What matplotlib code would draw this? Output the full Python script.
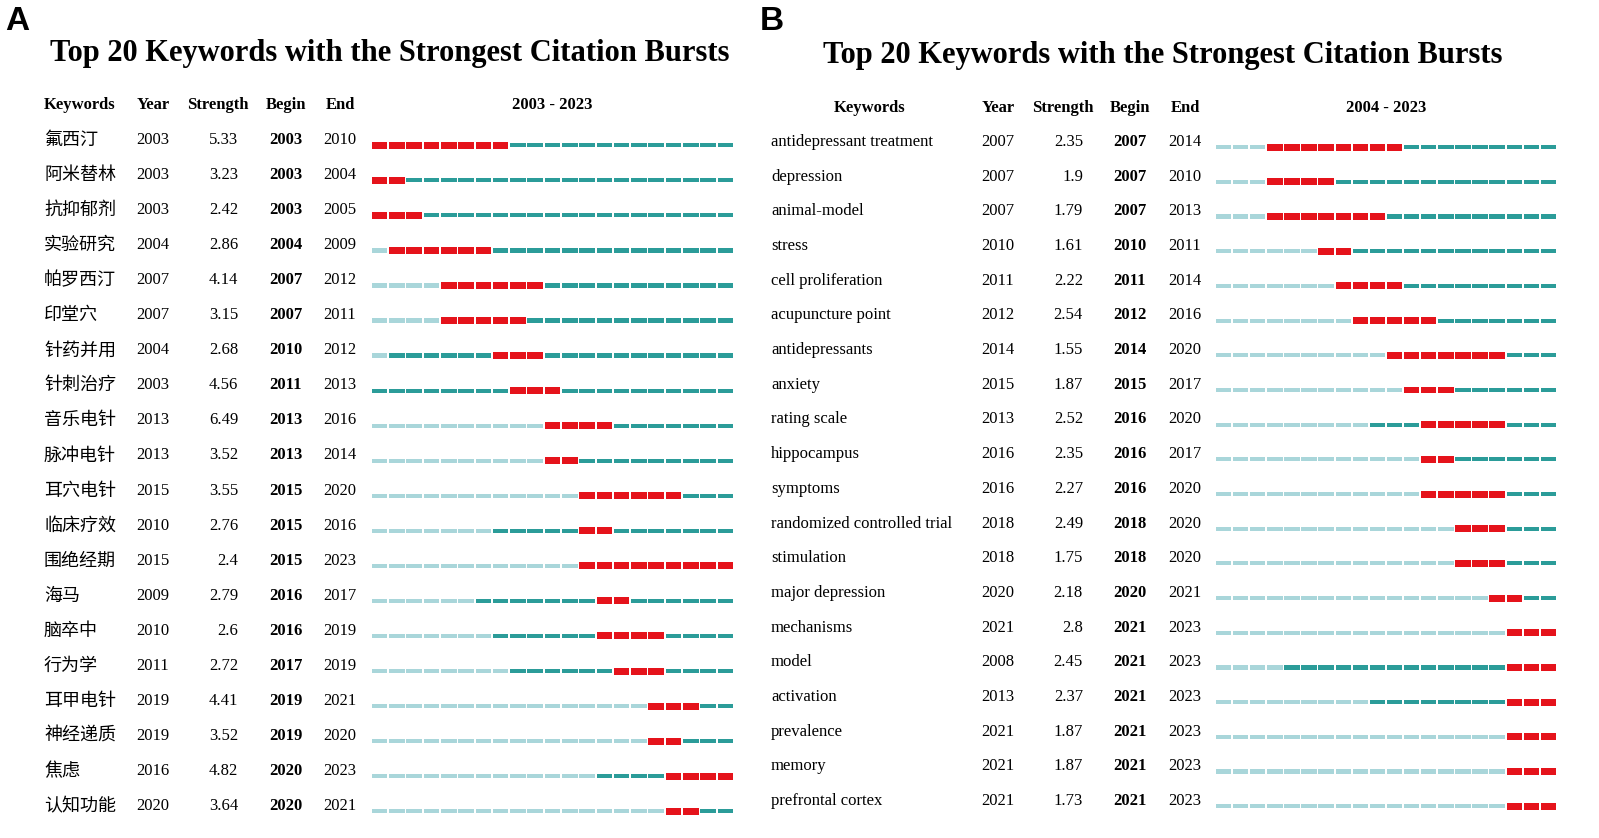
import matplotlib
matplotlib.use("Agg")
import matplotlib.pyplot as plt

kwA = ["氟西汀","阿米替林","抗抑郁剂","实验研究","帕罗西汀","印堂穴","针药并用","针刺治疗","音乐电针","脉冲电针",
       "耳穴电针","临床疗效","围绝经期","海马","脑卒中","行为学","耳甲电针","神经递质","焦虑","认知功能"]
yearA = [2003,2003,2003,2004,2007,2007,2004,2003,2013,2013,2015,2010,2015,2009,2010,2011,2019,2019,2016,2020]
strA = [5.33,3.23,2.42,2.86,4.14,3.15,2.68,4.56,6.49,3.52,3.55,2.76,2.4,2.79,2.6,2.72,4.41,3.52,4.82,3.64]
beginA = [2003,2003,2003,2004,2007,2007,2010,2011,2013,2013,2015,2015,2015,2016,2016,2017,2019,2019,2020,2020]
endA = [2010,2004,2005,2009,2012,2011,2012,2013,2016,2014,2020,2016,2023,2017,2019,2019,2021,2020,2023,2021]

kwB = ["antidepressant treatment","depression","animal-model","stress","cell proliferation","acupuncture point",
       "antidepressants","anxiety","rating scale","hippocampus","symptoms","randomized controlled trial",
       "stimulation","major depression","mechanisms","model","activation","prevalence","memory","prefrontal cortex"]
yearB = [2007,2007,2007,2010,2011,2012,2014,2015,2013,2016,2016,2018,2018,2020,2021,2008,2013,2021,2021,2021]
strB = [2.35,1.9,1.79,1.61,2.22,2.54,1.55,1.87,2.52,2.35,2.27,2.49,1.75,2.18,2.8,2.45,2.37,1.87,1.87,1.73]
beginB = [2007,2007,2007,2010,2011,2012,2014,2015,2016,2016,2016,2018,2018,2020,2021,2021,2021,2021,2021,2021]
endB = [2014,2010,2013,2011,2014,2016,2020,2017,2020,2017,2020,2020,2020,2021,2023,2023,2023,2023,2023,2023]

W, H = 1599, 838
fig = plt.figure(figsize=(W/100, H/100), dpi=100)
base = fig.add_axes([0, 0, 1, 1]); base.set_xlim(0, W); base.set_ylim(H, 0); base.axis("off")
SERIF = ["Liberation Serif", "DejaVu Serif"]
CJK = ["Noto Sans CJK SC", "DejaVu Sans"]
LIGHT, TEAL, RED = "#a9d6da", "#2b9c99", "#e5131b"
FS = 12

def panel(letter, lx, title, tx, ty, hdr_y, cols, kws, years, strs, begins, ends, start, stop,
          y0, y1, bx0, bx1, kwfont, kwsize, kwx):
    base.text(lx, 22, letter, fontsize=24, fontweight="bold", family="Liberation Sans", va="center")
    base.text(tx, ty, title, fontsize=22, fontweight="bold", family=SERIF, va="center", ha="center")
    kx, yx, sx, bgx, ex = cols
    base.text(kx, hdr_y, "Keywords", fontsize=FS, fontweight="bold", family=SERIF, va="center",
              ha="left" if kwfont == CJK else "center")
    for x, s in [(yx, "Year"), (sx, "Strength"), (bgx, "Begin"), (ex, "End"),
                 ((bx0+bx1)/2, f"{start} - {stop}")]:
        base.text(x, hdr_y, s, fontsize=FS, fontweight="bold", family=SERIF, va="center", ha="center")
    n = len(kws); step = (y1 - y0)/(n-1)
    for i in range(n):
        y = y0 + i*step
        base.text(kwx, y, kws[i], fontsize=kwsize, family=kwfont, va="center", ha="left")
        base.text(yx, y, str(years[i]), fontsize=FS, family=SERIF, va="center", ha="center")
        base.text(sx+20, y, f"{strs[i]:g}", fontsize=FS, family=SERIF, va="center", ha="right")
        base.text(bgx, y, str(begins[i]), fontsize=FS, fontweight="bold", family=SERIF, va="center", ha="center")
        base.text(ex, y, str(ends[i]), fontsize=FS, family=SERIF, va="center", ha="center")
    ax = fig.add_axes([bx0/W, 1-(y1+step/2)/H, (bx1-bx0)/W, (y1-y0+step)/H])
    ax.set_xlim(start, stop+1); ax.set_ylim(n-0.5, -0.5); ax.axis("off")
    for i in range(n):
        for yr in range(start, stop+1):
            if yr < years[i]:
                c, h = LIGHT, 0.12
            elif begins[i] <= yr <= ends[i]:
                c, h = RED, 0.2
            else:
                c, h = TEAL, 0.12
            ax.barh(i+0.15, 0.9, left=yr+0.05, height=h, color=c, linewidth=0)

panel("A", 5, "Top 20 Keywords with the Strongest Citation Bursts", 390, 53, 105,
      (44, 153, 218, 286, 340), kwA, yearA, strA, beginA, endA, 2003, 2023,
      140, 806, 371, 734, CJK, 13, 44)
panel("B", 760, "Top 20 Keywords with the Strongest Citation Bursts", 1163, 56, 108,
      (870, 998, 1063, 1130, 1185), kwB, yearB, strB, beginB, endB, 2004, 2023,
      142, 801, 1215, 1557, SERIF, 12, 771)

fig.savefig("out.png", dpi=100)
